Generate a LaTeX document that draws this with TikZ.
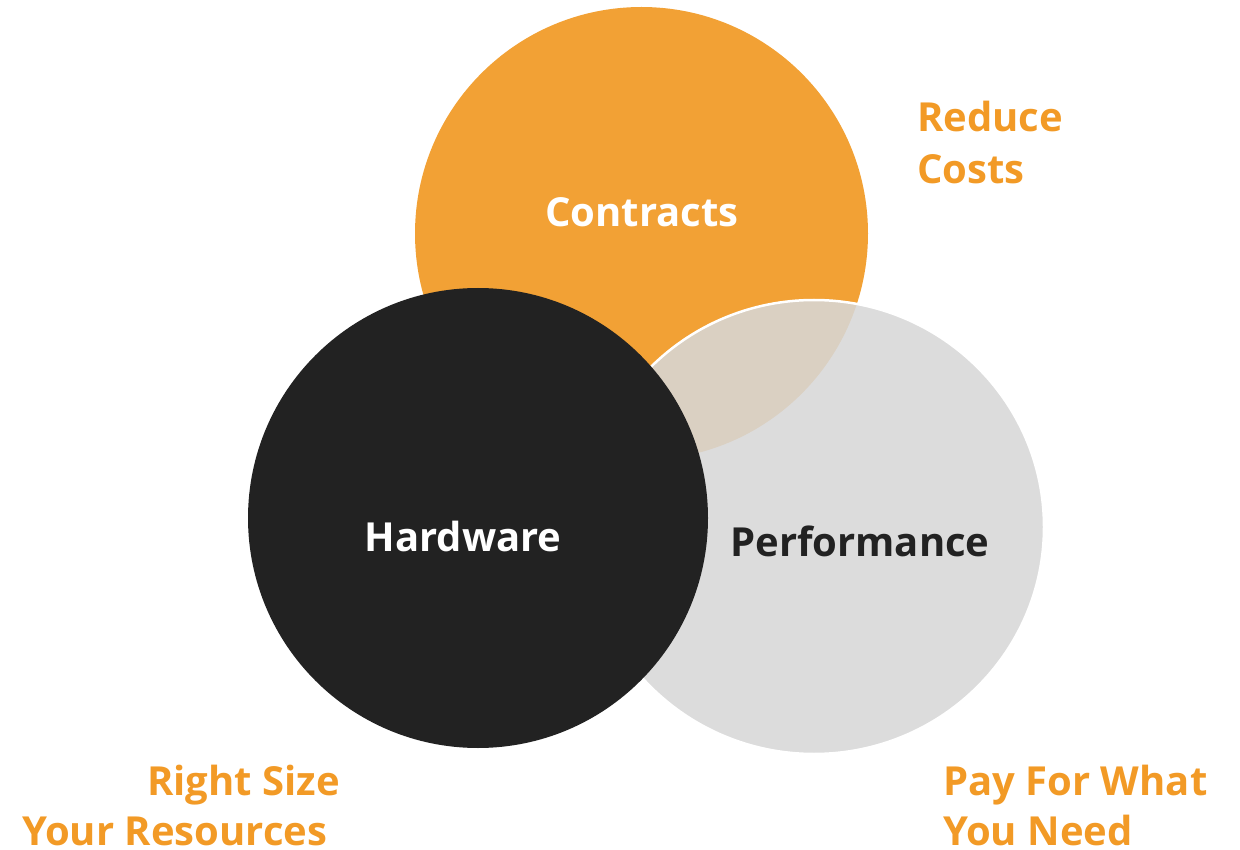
\documentclass[tikz,border=0pt]{standalone}
\usepackage{fontspec}
\setmainfont{Open Sans}
\definecolor{corange}{HTML}{F2A135}
\definecolor{torange}{HTML}{F29A26}
\definecolor{cblack}{HTML}{222222}
\definecolor{cgray}{HTML}{D7D7D7}
\tikzset{
  lbl/.style={inner sep=0pt, font=\bfseries\fontsize{40}{48}\selectfont},
  olbl/.style={lbl, text=torange},
}
\begin{document}
\begin{tikzpicture}[x=1pt,y=-1pt]
\useasboundingbox (0,0) rectangle (1240,850);
\fill[corange] (641.5,233.5) circle (226.5);
\path[fill=cgray, fill opacity=0.87, draw=white, line width=2.5pt] (814,527) ellipse [x radius=230, y radius=227];
\fill[cblack] (478,518) circle (230);
\node[lbl, text=white] (contracts) at (642,212) {Contracts};
\node[lbl, text=white] (hardware) at (463,536) {Hardware};
\node[lbl, text=cblack] (performance) at (860,541) {Performance};
\node[olbl, anchor=base west] (reduce) at (917,132) {Reduce};
\node[olbl, anchor=base west] (costs) at (917,184) {Costs};
\node[olbl, anchor=base east] (right) at (340,795) {Right Size};
\node[olbl, anchor=base west] (your) at (22,845) {Your Resources};
\node[olbl, anchor=base west] (pay) at (943,795) {Pay For What};
\node[olbl, anchor=base west] (you) at (943,845) {You Need};
\end{tikzpicture}
\end{document}
